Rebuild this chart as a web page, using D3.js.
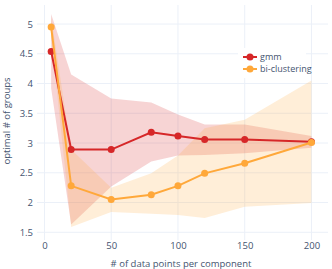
<!DOCTYPE html>
<html>
<head>
<meta charset="utf-8">
<script src="https://cdn.jsdelivr.net/npm/d3@7"></script>
<style>
  body { margin: 0; background: #fff; }
  text { font-family: "Open Sans", sans-serif; }
</style>
</head>
<body>
<div class="canvas"></div>
<script>
// data
const sizes = [5, 20, 50, 80, 100, 120, 150, 200];
const gmmMean = [4.54, 2.89, 2.89, 3.18, 3.12, 3.06, 3.06, 3.02];
const gmmUpper = [5.17, 4.15, 3.75, 3.68, 3.48, 3.31, 3.31, 3.12];
const gmmLower = [3.92, 1.63, 2.27, 2.69, 2.79, 2.80, 2.83, 2.92];
const biMean = [4.95, 2.28, 2.05, 2.13, 2.28, 2.49, 2.66, 3.01];
const biUpper = [5.12, 2.89, 2.25, 2.49, 2.79, 3.25, 3.39, 4.05];
const biLower = [4.80, 1.59, 1.84, 1.81, 1.79, 1.74, 1.93, 1.99];
const xTicks = [0, 50, 100, 150, 200];
const yTicks = [1.5, 2, 2.5, 3, 3.5, 4, 4.5, 5];

const series = [
  {name: 'gmm', mean: gmmMean, upper: gmmUpper, lower: gmmLower,
    color: 'rgb(214,39,40)', fill: 'rgba(214,39,40,0.2)'},
  {name: 'bi-clustering', mean: biMean, upper: biUpper, lower: biLower,
    color: 'rgb(255,168,58)', fill: 'rgba(255,168,58,0.2)'}
];

const width = 332, height = 269;
const plot = {left: 37, right: 328, top: 5, bottom: 240};

const svg = d3.select('.canvas').append('svg')
  .attr('width', width)
  .attr('height', height);

const x = d3.scaleLinear()
  .domain([-5.6, 212.4])
  .range([plot.left, plot.right]);

const y = d3.scaleLinear()
  .domain([1.37, 5.32])
  .range([plot.bottom, plot.top]);

const gridColor = '#ebf0f8';
const tickColor = '#44546f';

// grid lines
svg.append('g')
  .selectAll('line')
  .data(xTicks)
  .enter().append('line')
  .attr('x1', d => x(d)).attr('x2', d => x(d))
  .attr('y1', plot.top).attr('y2', plot.bottom)
  .attr('stroke', gridColor).attr('stroke-width', 1);

svg.append('g')
  .selectAll('line')
  .data(yTicks)
  .enter().append('line')
  .attr('x1', plot.left).attr('x2', plot.right)
  .attr('y1', d => y(d)).attr('y2', d => y(d))
  .attr('stroke', gridColor).attr('stroke-width', 1);

// axes (labels only, no domain lines)
const xAxis = d3.axisBottom(x).tickValues(xTicks).tickSize(0).tickPadding(2);
const yAxis = d3.axisLeft(y).tickValues(yTicks).tickSize(0).tickPadding(4)
  .tickFormat(d => d);

const xAxisGroup = svg.append('g')
  .attr('transform', `translate(0, ${plot.bottom})`)
  .call(xAxis);
const yAxisGroup = svg.append('g')
  .attr('transform', `translate(${plot.left}, 0)`)
  .call(yAxis);

[xAxisGroup, yAxisGroup].forEach(g => {
  g.select('.domain').remove();
  g.selectAll('text')
    .attr('fill', tickColor)
    .style('font-size', '9.5px')
    .style('font-family', '"Open Sans", sans-serif');
});

// bands
series.forEach(s => {
  const area = d3.area()
    .x((d, i) => x(sizes[i]))
    .y0((d, i) => y(s.lower[i]))
    .y1((d, i) => y(s.upper[i]));
  svg.append('path')
    .datum(sizes)
    .attr('d', area)
    .attr('fill', s.fill)
    .attr('stroke', 'none');
});

// lines and markers
series.forEach(s => {
  const line = d3.line()
    .x((d, i) => x(sizes[i]))
    .y(d => y(d));
  svg.append('path')
    .datum(s.mean)
    .attr('d', line)
    .attr('fill', 'none')
    .attr('stroke', s.color)
    .attr('stroke-width', 2);
  svg.append('g')
    .selectAll('circle')
    .data(s.mean)
    .enter().append('circle')
    .attr('cx', (d, i) => x(sizes[i]))
    .attr('cy', d => y(d))
    .attr('r', 3.5)
    .attr('fill', s.color);
});

// legend
const legend = svg.append('g').attr('transform', 'translate(238, 48)');
legend.append('rect')
  .attr('width', 68).attr('height', 30)
  .attr('fill', '#fff');
series.forEach((s, i) => {
  const row = legend.append('g').attr('transform', `translate(0, ${9 + i * 12})`);
  row.append('line')
    .attr('x1', 5).attr('x2', 19)
    .attr('stroke', s.color).attr('stroke-width', 2);
  row.append('circle')
    .attr('cx', 12).attr('r', 3.5).attr('fill', s.color);
  row.append('text')
    .attr('x', 22).attr('dy', '0.35em')
    .attr('fill', tickColor)
    .style('font-size', '9px')
    .text(s.name);
});

// axis titles
svg.append('text')
  .attr('x', 181).attr('y', 264)
  .attr('text-anchor', 'middle')
  .attr('dy', '0.35em')
  .attr('fill', tickColor)
  .style('font-size', '9.5px')
  .text('# of data points per component');

svg.append('text')
  .attr('transform', 'translate(7, 121) rotate(-90)')
  .attr('text-anchor', 'middle')
  .attr('dy', '0.35em')
  .attr('fill', tickColor)
  .style('font-size', '9.5px')
  .text('optimal # of groups');
</script>
</body>
</html>
